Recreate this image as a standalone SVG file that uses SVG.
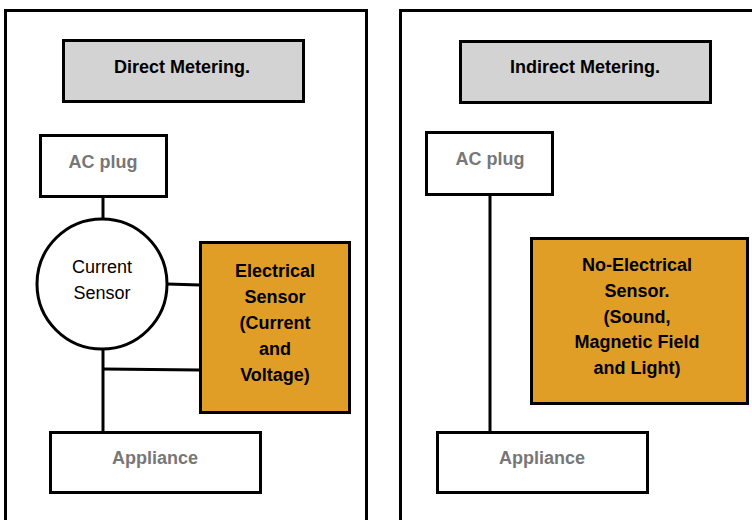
<svg xmlns="http://www.w3.org/2000/svg" width="752" height="520" viewBox="0 0 752 520">
<style>
.panel{fill:#ffffff;stroke:#000;stroke-width:3}
.box{fill:#ffffff;stroke:#000;stroke-width:3}
.title{fill:#d3d3d3;stroke:#000;stroke-width:3}
.sens{fill:#e09e26;stroke:#000;stroke-width:3}
.t{font-family:"Liberation Sans",Arial,sans-serif;font-size:18px;text-anchor:middle}
.b{font-weight:bold;fill:#000}
.g{font-weight:bold;fill:#777}
.n{fill:#000}
.wire{stroke:#000;stroke-width:3;fill:none}
</style>
<rect width="752" height="520" fill="#fff"/>
<g id="panel-direct"><rect class="panel" x="5.5" y="10.5" width="361" height="520"/></g>
<g id="panel-indirect"><rect class="panel" x="400.5" y="10.5" width="360" height="520"/></g>
<g id="connectors">
<line class="wire" x1="103" y1="197" x2="103" y2="219"/>
<line class="wire" x1="167" y1="284" x2="200" y2="285"/>
<line class="wire" x1="103" y1="349" x2="103" y2="432"/>
<line class="wire" x1="103" y1="369" x2="200" y2="370"/>
<line class="wire" x1="490" y1="195" x2="490" y2="432"/>
</g>
<g id="title-direct"><rect class="title" x="63.5" y="40.5" width="240" height="61"/><text class="t b" x="182" y="73">Direct Metering.</text></g>
<g id="acplug-direct"><rect class="box" x="40.5" y="135.5" width="126" height="61"/><text class="t g" x="103" y="168">AC plug</text></g>
<g id="current-sensor"><circle class="box" cx="102" cy="284" r="65"/><text class="t n" x="102" y="273">Current</text><text class="t n" x="102" y="299">Sensor</text></g>
<g id="electrical-sensor"><rect class="sens" x="200.5" y="242.5" width="149" height="170"/>
<text class="t b" x="275" y="277">Electrical</text><text class="t b" x="275" y="303">Sensor</text><text class="t b" x="275" y="329">(Current</text><text class="t b" x="275" y="355">and</text><text class="t b" x="275" y="381">Voltage)</text></g>
<g id="appliance-direct"><rect class="box" x="50.5" y="432.5" width="210" height="60"/><text class="t g" x="155" y="464">Appliance</text></g>
<g id="title-indirect"><rect class="title" x="460.5" y="41.5" width="250" height="61"/><text class="t b" x="585" y="73">Indirect Metering.</text></g>
<g id="acplug-indirect"><rect class="box" x="426.5" y="132.5" width="126" height="62"/><text class="t g" x="490" y="165">AC plug</text></g>
<g id="non-electrical-sensor"><rect class="sens" x="531.5" y="238.5" width="216" height="165"/>
<text class="t b" x="637" y="271">No-Electrical</text><text class="t b" x="637" y="297">Sensor.</text><text class="t b" x="637" y="323">(Sound,</text><text class="t b" x="637" y="348">Magnetic Field</text><text class="t b" x="637" y="374">and Light)</text></g>
<g id="appliance-indirect"><rect class="box" x="437.5" y="432.5" width="210" height="60"/><text class="t g" x="542" y="464">Appliance</text></g>
</svg>
